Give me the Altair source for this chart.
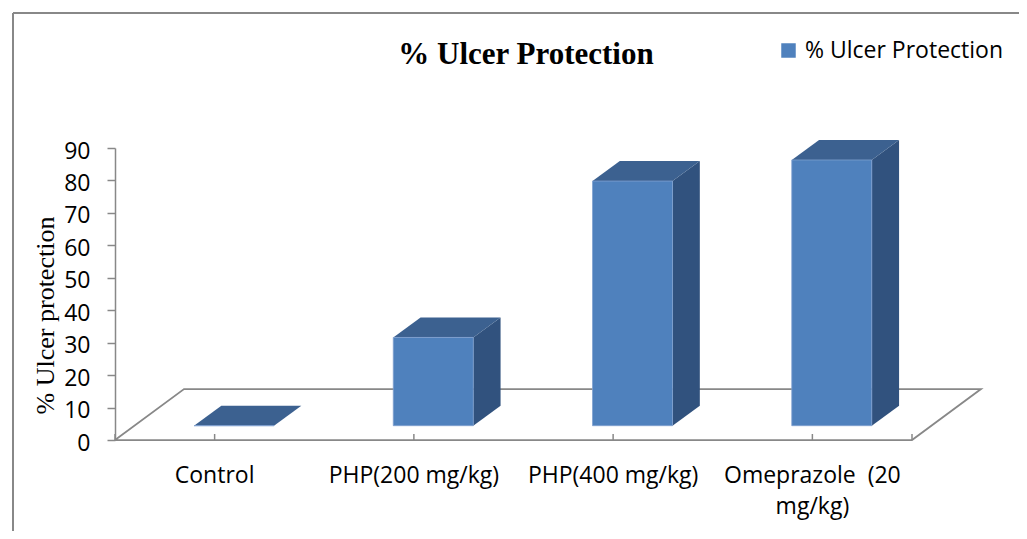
import altair as alt
import pandas as pd

# ---- data ----
categories = ["Control", "PHP(200 mg/kg)", "PHP(400 mg/kg)", "Omeprazole  (20 mg/kg)"]
category_labels = ["Control", "PHP(200 mg/kg)", "PHP(400 mg/kg)", "Omeprazole \u00a0(20\nmg/kg)"]
protection = [0, 27.2, 75.4, 81.9]
series_name = "% Ulcer Protection"
y_ticks = [0, 10, 20, 30, 40, 50, 60, 70, 80, 90]
chart_title = "% Ulcer Protection"
y_title = "% Ulcer protection"

# ---- layout / pseudo-3D geometry (pixels converted to data units) ----
W, H = 797, 292
N = len(categories)
YMAX = 90
PXX = W / N          # px per category unit
PXY = H / YMAX       # px per value unit
FDX, FDY = 69 / PXX, 51 / PXY          # floor depth
SHX, B0 = 19.4 / PXX, 14.3 / PXY       # bar front offset into floor
DDX, DDY = 27.3 / PXX, 20 / PXY        # bar depth
BW = 80 / PXX                          # bar width

FRONT = "#4F81BD"
TOP = "#3C6190"
SIDE = "#31527E"
GRAY = "#888888"

front_rows, side_rows, top_rows = [], [], []
for i, (c, v) in enumerate(zip(categories, protection)):
    x1 = i + 0.5 + SHX - BW / 2
    x2 = x1 + BW
    front_rows.append({"cat": c, "series": series_name, "x1": x1, "x2": x2, "y1": B0, "y2": B0 + v})
    side_rows.append({"cat": c, "x": x2, "lo": B0, "hi": B0 + v})
    side_rows.append({"cat": c, "x": x2 + DDX, "lo": B0 + DDY, "hi": B0 + v + DDY})
    top_rows.append({"cat": c, "y": B0 + v, "xl": x1, "xr": x2})
    top_rows.append({"cat": c, "y": B0 + v + DDY, "xl": x1 + DDX, "xr": x2 + DDX})

front_df = pd.DataFrame(front_rows)
side_df = pd.DataFrame(side_rows)
top_df = pd.DataFrame(top_rows)

floor_df = pd.DataFrame({
    "x": [0, N, N + FDX, FDX, 0],
    "y": [0, 0, FDY, FDY, 0],
    "o": [0, 1, 2, 3, 4],
})
tick_df = pd.DataFrame({"x": [i + 0.5 for i in range(N)] + [0, N], "y0": 0.0, "y1": 6 / PXY})
label_df = pd.DataFrame({"x": [i + 0.5 for i in range(N)], "label": category_labels})

xs = alt.Scale(domain=[0, N], nice=False, zero=False)
ys = alt.Scale(domain=[0, YMAX], nice=False)

yaxis = alt.Axis(
    values=y_ticks, grid=False, domainColor=GRAY, domainWidth=1.5,
    tickColor=GRAY, tickWidth=1.5, tickSize=8, labelPadding=17,
    labelFont="Open Sans", labelFontSize=23, labelColor="black", labelOffset=3,
    labelOverlap=False, labelBound=False, labelFlush=False,
    title=y_title, titleFont="Liberation Serif", titleFontSize=26,
    titleFontWeight="normal", titleColor="black", titleAngle=270,
    titleX=-62, titleY=167, titleAlign="center", titleBaseline="alphabetic",
)


def X(field):
    return alt.X(field, scale=xs, axis=None)


def Y(field):
    return alt.Y(field, scale=ys, axis=yaxis)


floor = alt.Chart(floor_df).mark_line(color=GRAY, strokeWidth=1.75).encode(
    x=X("x:Q"), y=Y("y:Q"), order="o:Q",
)

ticks = alt.Chart(tick_df).mark_rule(color=GRAY, strokeWidth=1.5).encode(
    x=X("x:Q"), y=Y("y0:Q"), y2="y1:Q",
)

side = alt.Chart(side_df).mark_area(orient="vertical", color=SIDE).encode(
    x=X("x:Q"), y=Y("lo:Q"), y2="hi:Q", detail="cat:N",
)

top = alt.Chart(top_df).mark_area(orient="horizontal", color=TOP).encode(
    y=Y("y:Q"), x=X("xl:Q"), x2="xr:Q", detail="cat:N",
)

front = alt.Chart(front_df).mark_rect(stroke="#7FA0CF", strokeWidth=0.8).encode(
    x=X("x1:Q"), x2="x2:Q", y=Y("y1:Q"), y2="y2:Q",
    color=alt.Color(
        "series:N",
        scale=alt.Scale(domain=[series_name], range=[FRONT]),
        legend=alt.Legend(
            orient="none", legendX=662, legendY=-109, title=None,
            symbolType="square", symbolSize=210, symbolStrokeWidth=0,
            labelFont="Open Sans", labelFontSize=23, labelColor="black",
            labelOffset=5, padding=0, labelLimit=0,
        ),
    ),
)

labels = alt.Chart(label_df).mark_text(
    font="Open Sans", fontSize=23, color="black", align="center",
    baseline="alphabetic", lineBreak="\n", lineHeight=31,
).encode(
    x=X("x:Q"),
    y=alt.value(335),
    text="label:N",
)

title = alt.Chart(pd.DataFrame({"t": [chart_title]})).mark_text(
    font="Liberation Serif", fontSize=31, fontWeight="bold", color="black",
    align="center", baseline="alphabetic",
).encode(x=alt.value(411), y=alt.value(-84), text="t:N")

frame_left = alt.Chart(pd.DataFrame({"k": [0]})).mark_rule(color=GRAY, strokeWidth=2).encode(
    x=alt.value(-102), y=alt.value(-135), y2=alt.value(400)
)
frame_top = alt.Chart(pd.DataFrame({"k": [0]})).mark_rule(color=GRAY, strokeWidth=2).encode(
    y=alt.value(-135), x=alt.value(-102), x2=alt.value(904)
)

chart = alt.layer(
    floor, frame_left, frame_top, ticks, side, top, front, labels, title
).properties(
    width=W, height=H,
    padding={"left": 107, "top": 140, "right": 107, "bottom": 91},
    autosize=alt.AutoSizeParams(type="none"),
    background="white",
).configure_view(stroke=None)

chart.save("out.html", embed_options={"renderer": "svg", "actions": False})
